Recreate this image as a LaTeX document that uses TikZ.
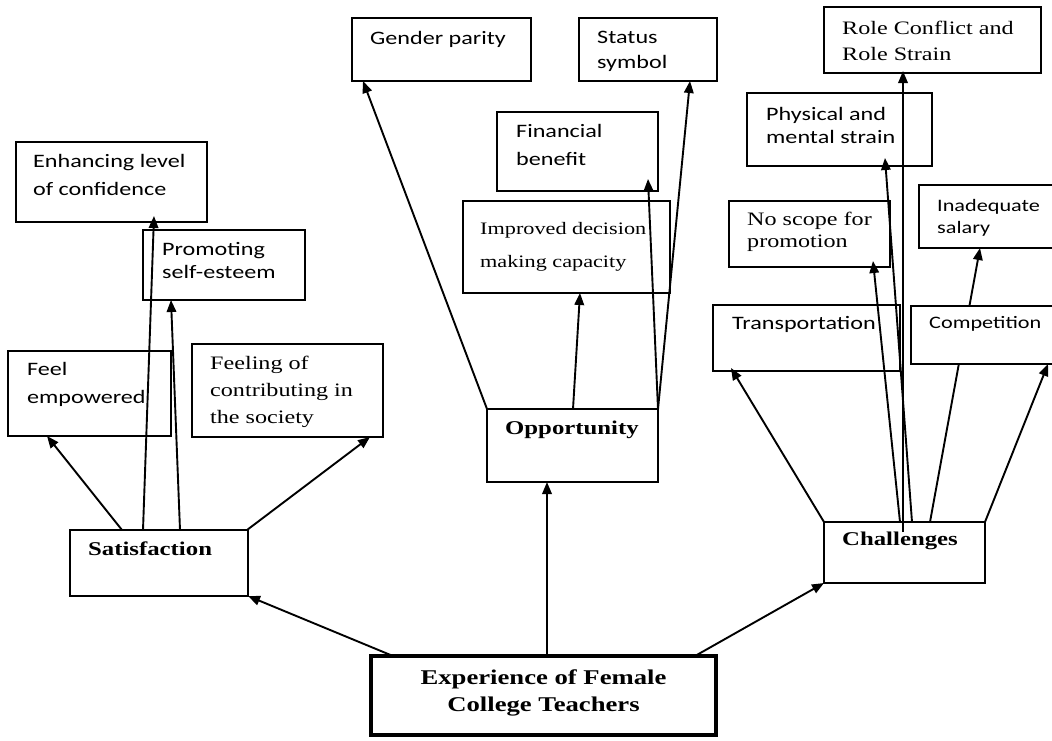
\documentclass[tikz,border=0pt]{standalone}
\usepackage{fontspec}
\setmainfont{Liberation Serif}[FakeStretch=1.27]
\newfontfamily\calfont{Carlito}[FakeStretch=1.27]
\usetikzlibrary{arrows.meta,calc}
\pgfdeclarelayer{bg}
\pgfsetlayers{bg,main}
\newcommand\bx[6][]{\node[box,#1,minimum width={#5-#3},minimum height={#6-#4}] (#2) at ({(#3+#5)/2},{(#4+#6)/2}) {};}
\tikzset{
  box/.style={draw, line width=2pt, inner sep=0pt, outer sep=0pt},
  arr/.style={line width=1.9pt, -{Triangle[length=12pt,width=9.5pt]}},
  st/.style={inner sep=0pt, anchor=north west, align=left, font=\calfont\fontsize{19}{#1}\selectfont},
  st/.default=28,
  rt/.style={inner sep=0pt, anchor=north west, align=left, font=\fontsize{19}{#1}\selectfont},
  rt/.default=27,
  bt/.style={inner sep=0pt, anchor=north west, font=\bfseries\fontsize{19.5}{24}\selectfont}
}
\begin{document}
\begin{tikzpicture}[x=1pt,y=-1pt]
\path[use as bounding box, clip] (0,0) rectangle (1052,740);
% boxes
\bx{enh}{16}{142}{207}{222}
\bx{prom}{143}{230}{305}{300}
\bx{feel}{8}{351}{171}{436}
\bx{cont}{192}{344}{383}{437}
\bx{sat}{70}{530}{248}{596}
\bx{gen}{352}{18}{531}{81}
\bx{stat}{579}{18}{717}{81}
\bx{fin}{497}{112}{658}{191}
\bx{imp}{463}{201}{670}{293}
\bx{opp}{487}{409}{658}{482}
\bx{role}{824}{7}{1041}{73}
\bx{phys}{747}{93}{932}{166}
\bx{nosc}{729}{201}{890}{267}
\bx{inad}{919}{185}{1062}{248}
\bx{trans}{713}{305}{900}{371}
\bx[fill=white]{comp}{911}{306}{1062}{364}
\bx{chal}{824}{522}{985}{583}
\bx[line width=4.5pt]{exp}{371}{656}{716}{735}
% texts
\node[st] (enh-t) at (33,154) {Enhancing level\\of confidence};
\node[st=23] (prom-t) at (162,242) {Promoting\\self-esteem};
\node[st] (feel-t) at (27,362) {Feel\\empowered};
\node[rt] (cont-t) at (210,356) {Feeling of\\contributing in\\the society};
\node[bt] (sat-t) at (88,542) {Satisfaction};
\node[st] (gen-t) at (370,31) {Gender parity};
\node[st=25] (stat-t) at (597,31) {Status\\symbol};
\node[st] (fin-t) at (516,124) {Financial\\benefit};
\node[rt, font=\fontsize{17.5}{33}\selectfont] (imp-t) at (480,222) {Improved decision\\making capacity};
\node[bt] (opp-t) at (505,421) {Opportunity};
\node[rt=26] (role-t) at (842,21) {Role Conflict and\\Role Strain};
\node[st=23] (phys-t) at (766,107) {Physical and\\mental strain};
\node[rt=22] (nosc-t) at (747,212) {No scope for\\promotion};
\node[st, font=\calfont\fontsize{17.5}{22}\selectfont] (inad-t) at (937,199) {Inadequate\\salary};
\node[st] (trans-t) at (732,316) {Transportation};
\node[st, font=\calfont\fontsize{17.5}{22}\selectfont] (comp-t) at (929,316) {Competition};
\node[bt] (chal-t) at (842,532) {Challenges};
\node[inner sep=0pt, anchor=north, align=center, font=\bfseries\fontsize{21}{28}\selectfont] (exp-t) at (543.5,669) {Experience of Female\\College Teachers};
% connectors
\begin{pgfonlayer}{bg}
\draw[arr] ($(exp.north west)+(22,0)$) -- (sat.south east);
\draw[arr] ($(exp.north west)+(176,0)$) -- ($(opp.south west)+(60,0)$);
\draw[arr] ($(exp.north east)+(-21,0)$) -- (chal.south west);
\draw[arr] ($(sat.north west)+(52,0)$) -- ($(feel.south west)+(39,0)$);
\draw[arr] ($(sat.north west)+(73,0)$) -- ($(enh.south west)+(138,-6)$);
\draw[arr] ($(sat.north west)+(110,0)$) -- ($(prom.south west)+(28,0)$);
\draw[arr] ($(sat.north east)+(-1,0)$) -- ($(cont.south west)+(178,0)$);
\draw[arr] (opp.north west) -- ($(gen.south west)+(11,0)$);
\draw[arr] ($(opp.north west)+(86,0)$) -- ($(imp.south west)+(117,0)$);
\draw[arr] (opp.north east) -- ($(fin.south east)+(-10,-12)$);
\draw[arr] (opp.north east) -- ($(stat.south west)+(111,0)$);
\draw[arr] (chal.north west) -- ($(trans.south west)+(18,-3)$);
\draw[arr] ($(chal.north west)+(76,0)$) -- ($(nosc.south west)+(144,-6)$);
\draw[arr] ($(chal.north west)+(88,0)$) -- ($(phys.south west)+(138,-8)$);
\draw[arr] ($(chal.north west)+(79,10)$) -- ($(role.south west)+(79,-2)$);
\draw[arr] ($(chal.north west)+(106,0)$) -- ($(inad.south west)+(61,0)$);
\draw[arr] (chal.north east) -- ($(comp.south west)+(137,0)$);
\end{pgfonlayer}
\end{tikzpicture}
\end{document}
